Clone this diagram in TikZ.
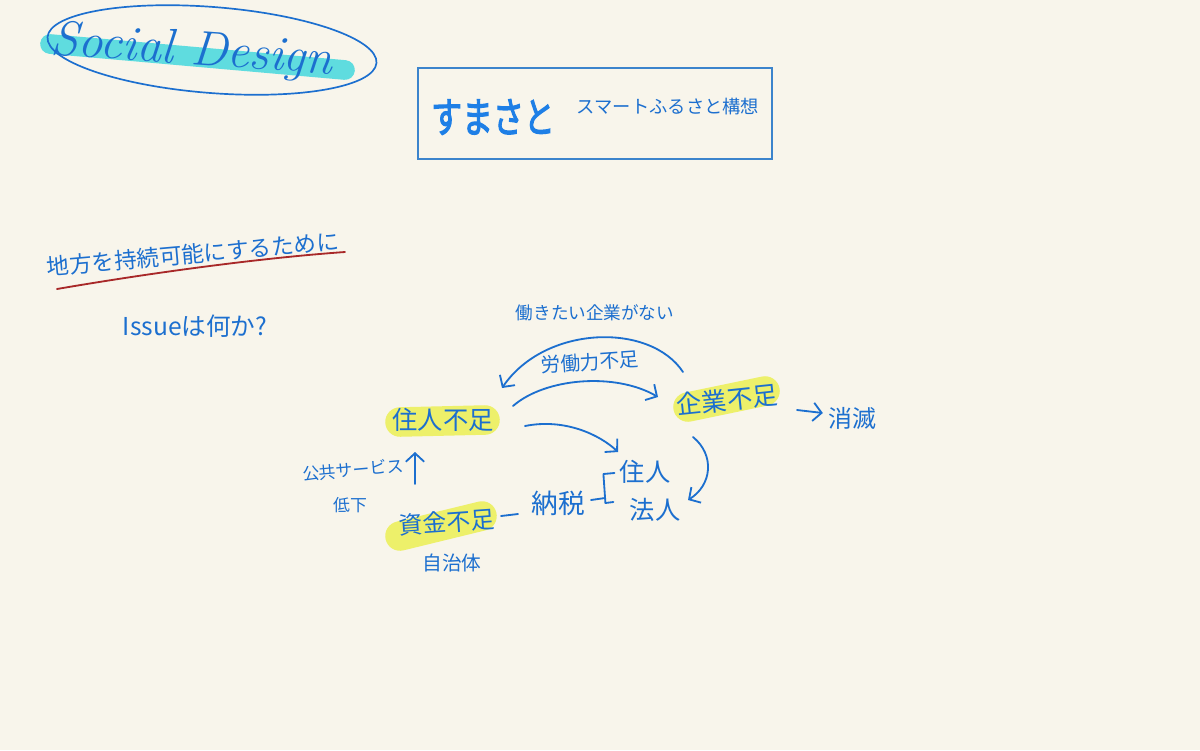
\documentclass[tikz,border=0pt]{standalone}
\usepackage{fontspec}
\newfontfamily\jp{Noto Sans CJK JP}
\newfontfamily\jpb[FakeBold=3]{Noto Sans CJK JP}
\usetikzlibrary{arrows.meta,calc}
\definecolor{bgcol}{HTML}{F8F5EB}
\definecolor{inkblue}{HTML}{1C6FCF}
\definecolor{titleblue}{HTML}{1E7FE6}
\definecolor{boxblue}{HTML}{3C84CC}
\definecolor{hlyellow}{HTML}{EDF06A}
\definecolor{hlcyan}{HTML}{5FDCDF}
\definecolor{redink}{HTML}{A82828}
\tikzset{
  jt/.style={text=inkblue, inner sep=0pt, font=\jp\fontsize{#1}{#1}\selectfont},
  inkline/.style={draw=inkblue, line width=1.3pt, line cap=round, line join=round},
  arr/.style={inkline, -{Straight Barb[length=6pt,width=13pt]}},
  hl/.style={line width=21pt, line cap=round, draw=#1},
}
\begin{document}
\begin{tikzpicture}[x=0.025cm,y=-0.025cm]
\fill[bgcol] (0,0) rectangle (1200,750);
\useasboundingbox (0,0) rectangle (1200,750);

% highlights
\draw[hl=hlcyan, line width=14pt] (50,44) -- (345,70);
\draw[hl=hlyellow] (400,422) -- (485,420);
\draw[hl=hlyellow] (688,407) -- (765,391);
\draw[hl=hlyellow] (400,536) -- (482,516);

% logo
\node[text=inkblue, inner sep=0pt, font=\itshape\fontsize{35}{40}\selectfont, rotate=-4] (social) at (192,52) {Social Design};
\draw[draw=inkblue, line width=1.2pt, rotate around={-4.5:(212,50)}] (212,50) ellipse [x radius=165, y radius=43];

% title box
\draw[draw=boxblue, line width=1.5pt] (418,68) rectangle (772,159);
\node[text=titleblue, inner sep=0pt, font=\jpb\fontsize{22}{26}\selectfont] (sumasato) at (493,117) {\scalebox{1}[1.35]{すまさと}};
\node[jt=13] (kousou) at (668,107) {スマートふるさと構想};

% heading
\node[jt=16, rotate=5] (chihou) at (193,254) {地方を持続可能にするために};
\draw[draw=redink, line width=1.3pt, line cap=round] (57,289) .. controls (150,273) and (260,258) .. (345,252);
\node[jt=17.5] (issue) at (195,326) {Issueは何か?};

% diagram nodes
\node[jt=12.5] (hataraki) at (595,313) {働きたい企業がない};
\node[jt=14, rotate=4] (roudou) at (590,362) {労働力不足};
\node[jt=18] (junin) at (443,420) {住人不足};
\node[jt=18, rotate=6] (kigyo) at (727,400) {企業不足};
\node[jt=17] (shometsu) at (852,418) {消滅};
\node[jt=17, rotate=4] (shikin) at (447,522) {資金不足};
\node[jt=12, rotate=5] (kokyo) at (353,470) {公共サービス};
\node[jt=12] (teika) at (350,505) {低下};
\node[jt=14] (jichitai) at (452,563) {自治体};
\node[jt=19] (nouzei) at (558,503) {納税};
\node[jt=18] (jn2) at (645,472) {住人};
\node[jt=18] (houjin) at (655,510) {法人};

% connectors
\draw[arr] ($(kigyo)+(-44,-28)$) .. controls ($(kigyo)+(-77,-78)$) and ($(junin)+(102,-95)$) .. ($(junin)+(59,-32)$);
\draw[arr] ($(junin)+(70,-14)$) .. controls ($(junin)+(102,-42)$) and ($(kigyo)+(-112,-28)$) .. ($(kigyo)+(-69,-3)$);
\draw[arr] ($(junin)+(82,6)$) .. controls ($(junin)+(122,-2)$) and ($(jn2)+(-45,-37)$) .. ($(jn2)+(-27,-20)$);
\draw[arr] ($(kigyo)+(-34,37)$) .. controls ($(kigyo)+(-12,55)$) and ($(houjin)+(57,-25)$) .. ($(houjin)+(33,-10)$);
\draw[arr] ($(kigyo)+(70,10)$) -- ($(shometsu.west)+(-5,-5)$);
\draw[arr] ($(kokyo)+(62,14)$) -- ($(kokyo)+(62,-18)$);

% tax line and bracket
\draw[inkline] ($(shikin)+(54,-6)$) -- ($(nouzei.west)+(-13,11)$);
\draw[inkline] ($(nouzei.east)+(6,-3)$) -- ($(nouzei.east)+(20,-5)$);
\draw[inkline] ($(jn2.west)+(-5,1)$) -- ($(jn2.west)+(-16,2)$) -- ($(jn2.west)+(-14,31)$) -- ($(jn2.west)+(-6,30)$);
\end{tikzpicture}
\end{document}
